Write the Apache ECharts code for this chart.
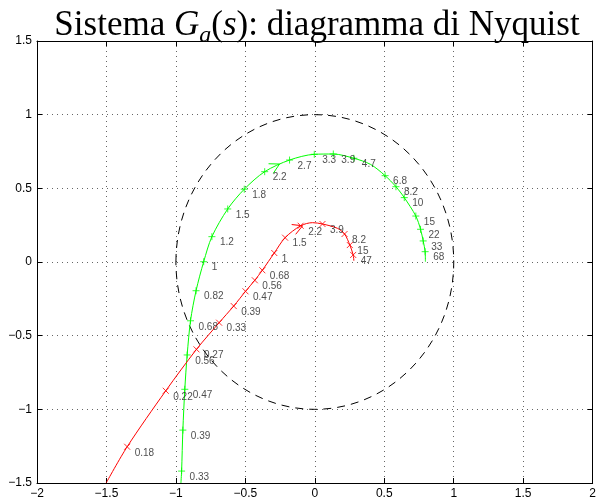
<!DOCTYPE html>
<html>
<head>
<meta charset="utf-8">
<script src="https://cdn.jsdelivr.net/npm/echarts@6/dist/echarts.min.js"></script>
<style>
html,body{margin:0;padding:0;background:#fff}
#chart{width:599px;height:502px}
</style>
</head>
<body>
<div id="chart"></div>
<script>
// Nyquist locus of the first system: Re/Im samples, frequency tag (rad/s) or null for a plain sample
const greenFreq = [null,'0.33','0.39','0.47','0.56','0.68','0.82','1','1.2','1.5','1.8','2.2','2.7','3.3','3.9','4.7',null,'6.8','8.2','10','15','22','33','68',null];
const greenRe   = [-0.964,-0.959,-0.950,-0.936,-0.919,-0.895,-0.855,-0.800,-0.741,-0.627,-0.508,-0.361,-0.182,-0.004,0.133,0.281,0.400,0.506,0.584,0.644,0.727,0.761,0.780,0.794,0.796];
const greenIm   = [-1.500,-1.419,-1.141,-0.864,-0.631,-0.399,-0.195,0.002,0.172,0.360,0.494,0.613,0.692,0.731,0.733,0.704,0.663,0.586,0.511,0.437,0.312,0.222,0.143,0.070,0.002];

// Nyquist locus of the second system
const redFreq = [null,'0.18','0.22','0.27','0.33','0.39','0.47','0.56','0.68','1','1.5','2.2',null,'3.9',null,'8.2','15','47',null];
const redRe   = [-1.501,-1.351,-1.073,-0.852,-0.689,-0.584,-0.499,-0.432,-0.378,-0.292,-0.214,-0.102,-0.016,0.055,0.162,0.214,0.252,0.276,0.281];
const redIm   = [-1.498,-1.254,-0.874,-0.593,-0.412,-0.299,-0.199,-0.124,-0.056,0.061,0.165,0.246,0.267,0.258,0.229,0.190,0.115,0.048,0.009];

// Direction arrows: [tip Re, tip Im, tail Re, tail Im]
const greenArrow = [-0.254, 0.665, -0.361, 0.613];
const redArrow   = [-0.088, 0.246, -0.150, 0.222];

// Reference unit circle: [centre Re, centre Im, radius]
const unitCircle = [0, 0, 1];

// Axis ranges and tick step
const xRange = [-2, 2];
const yRange = [-1.5, 1.5];
const tickStep = 0.5;

const GREEN = '#00ff00';
const RED = '#ff0000';
const SANS = 'Liberation Sans, Arial, sans-serif';
const SERIF = 'Liberation Serif, Times New Roman, serif';

function curve(re, im) {
  return re.map((x, i) => [x, im[i]]);
}
function tagged(re, im, freq) {
  const out = [];
  freq.forEach((f, i) => { if (f !== null) out.push({ name: f, value: [re[i], im[i]] }); });
  return out;
}
function tickFmt(v) {
  return (v < 0 ? '\u2212' : '') + Math.abs(v);
}

function axisPair(range, posMain, posMirror) {
  const line = { show: true, onZero: false, lineStyle: { color: '#000', width: 1 } };
  const tick = { show: true, inside: true, length: 5, lineStyle: { color: '#000', width: 1 } };
  return [
    {
      type: 'value', min: range[0], max: range[1], interval: tickStep, position: posMain,
      axisLine: line, axisTick: tick,
      axisLabel: { formatter: tickFmt, color: '#000', fontSize: 12, fontFamily: SANS, margin: 5 },
      splitLine: { show: true, lineStyle: { type: [1, 4], color: '#666', width: 1 } }
    },
    {
      type: 'value', min: range[0], max: range[1], interval: tickStep, position: posMirror,
      axisLine: line, axisTick: tick, axisLabel: { show: false }, splitLine: { show: false }
    }
  ];
}

function arrowSeries(data, color) {
  return {
    type: 'custom', xAxisIndex: 0, yAxisIndex: 0, z: 4,
    data: [data],
    renderItem: function (params, api) {
      const tip = api.coord([api.value(0), api.value(1)]);
      const tail = api.coord([api.value(2), api.value(3)]);
      const ang = Math.atan2(tip[1] - tail[1], tip[0] - tail[0]);
      const L = 11, h = 0.5;
      const p1 = [tip[0] - L * Math.cos(ang - h), tip[1] - L * Math.sin(ang - h)];
      const p2 = [tip[0] - L * Math.cos(ang + h), tip[1] - L * Math.sin(ang + h)];
      return { type: 'polyline', shape: { points: [p1, tip, p2] }, style: { stroke: color, fill: null, lineWidth: 1 } };
    }
  };
}

function tagSeries(data, color, symbolPath, size) {
  return {
    type: 'scatter', xAxisIndex: 0, yAxisIndex: 0, z: 5,
    data: data,
    symbol: symbolPath, symbolSize: size,
    itemStyle: { color: 'rgba(0,0,0,0)', borderColor: color, borderWidth: 1 },
    label: {
      show: true, formatter: p => p.name, position: 'right', distance: 4, offset: [0, 6],
      fontSize: 10, fontFamily: SANS, color: '#222'
    },
    emphasis: { disabled: true },
    silent: true
  };
}

const chart = echarts.init(document.getElementById('chart'), null, { renderer: 'canvas' });
chart.setOption({
  animation: false,
  backgroundColor: '#fff',
  grid: { left: 37, right: 2, top: 41, bottom: 19, containLabel: false },
  xAxis: axisPair(xRange, 'bottom', 'top'),
  yAxis: axisPair(yRange, 'left', 'right'),
  graphic: [{
    type: 'text', x: 317, y: 4, z: 10,
    style: {
      text: '{n|Sistema }{i|G}{s|a}{n|(}{i|s}{n|): diagramma di Nyquist}',
      align: 'center', verticalAlign: 'top',
      rich: {
        n: { fontFamily: SERIF, fontSize: 35, lineHeight: 44, fill: '#000' },
        i: { fontFamily: SERIF, fontSize: 35, lineHeight: 44, fontStyle: 'italic', fill: '#000' },
        s: { fontFamily: SERIF, fontSize: 24, lineHeight: 24, fontStyle: 'italic', verticalAlign: 'bottom', fill: '#000' }
      }
    }
  }],
  series: [
    {
      type: 'custom', xAxisIndex: 0, yAxisIndex: 0, z: 2,
      data: [unitCircle],
      renderItem: function (params, api) {
        const c = api.coord([api.value(0), api.value(1)]);
        const s = api.size([api.value(2), api.value(2)]);
        return {
          type: 'ellipse',
          shape: { cx: c[0], cy: c[1], rx: s[0], ry: s[1] },
          style: { stroke: '#000', fill: null, lineWidth: 1, lineDash: [8, 6] }
        };
      }
    },
    {
      type: 'line', xAxisIndex: 0, yAxisIndex: 0, z: 3,
      data: curve(greenRe, greenIm), smooth: 0.3, showSymbol: false, clip: true,
      lineStyle: { color: GREEN, width: 1 }, silent: true
    },
    {
      type: 'line', xAxisIndex: 0, yAxisIndex: 0, z: 3,
      data: curve(redRe, redIm), smooth: 0.3, showSymbol: false, clip: true,
      lineStyle: { color: RED, width: 1 }, silent: true
    },
    tagSeries(tagged(greenRe, greenIm, greenFreq), GREEN, 'path://M0,5L10,5M5,0L5,10', 7),
    tagSeries(tagged(redRe, redIm, redFreq), RED, 'path://M0,0L10,10M10,0L0,10', 6),
    arrowSeries(greenArrow, GREEN),
    arrowSeries(redArrow, RED)
  ]
});
</script>
</body>
</html>
